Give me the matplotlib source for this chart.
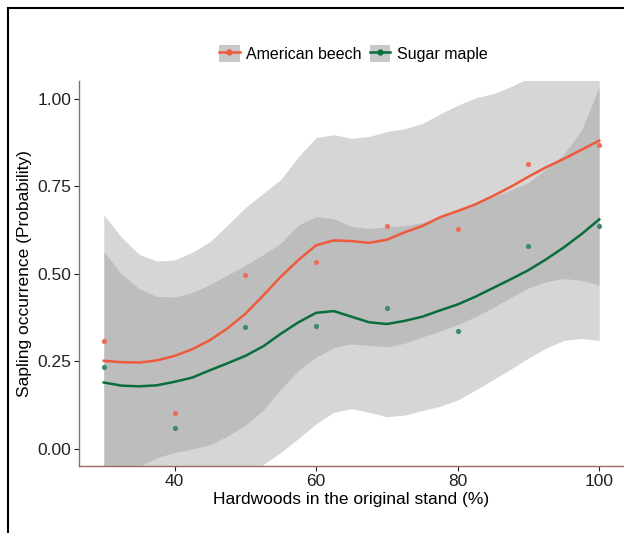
import numpy as np
import matplotlib
matplotlib.use("Agg")
import matplotlib.pyplot as plt
from matplotlib.patches import Patch
from matplotlib.lines import Line2D

plt.rcParams["font.family"] = ["Liberation Sans", "DejaVu Sans"]

# observed proportions per stand class
x_obs = [30, 40, 50, 60, 70, 80, 90, 100]
beech_obs = [0.309, 0.104, 0.496, 0.534, 0.637, 0.629, 0.813, 0.868]
maple_obs = [0.235, 0.061, 0.349, 0.351, 0.404, 0.337, 0.580, 0.637]

# smoothed fit and confidence band
x_fit = [30, 32.5, 35, 37.5, 40, 42.5, 45, 47.5, 50, 52.5, 55, 57.5, 60, 62.5, 65,
         67.5, 70, 72.5, 75, 77.5, 80, 82.5, 85, 87.5, 90, 92.5, 95, 97.5, 100]
beech_fit = [0.252, 0.248, 0.247, 0.253, 0.266, 0.285, 0.311, 0.345, 0.386, 0.438, 0.492,
             0.540, 0.582, 0.596, 0.594, 0.589, 0.598, 0.619, 0.637, 0.662, 0.680, 0.699,
             0.723, 0.749, 0.778, 0.805, 0.829, 0.855, 0.881]
beech_lo = [-0.20, -0.12, -0.05, -0.025, -0.010, 0.000, 0.012, 0.037, 0.068, 0.110, 0.170,
            0.225, 0.262, 0.290, 0.300, 0.296, 0.292, 0.302, 0.320, 0.337, 0.355, 0.378,
            0.404, 0.433, 0.460, 0.478, 0.487, 0.482, 0.468]
beech_hi = [0.669, 0.605, 0.556, 0.537, 0.540, 0.562, 0.592, 0.640, 0.690, 0.730, 0.770,
            0.835, 0.890, 0.898, 0.888, 0.893, 0.907, 0.915, 0.930, 0.957, 0.982, 1.003,
            1.015, 1.035, 1.060, 1.100, 1.150, 1.220, 1.290]
maple_fit = [0.190, 0.181, 0.179, 0.182, 0.192, 0.204, 0.225, 0.245, 0.266, 0.293, 0.329,
             0.362, 0.389, 0.394, 0.378, 0.362, 0.357, 0.366, 0.378, 0.396, 0.413, 0.435,
             0.460, 0.485, 0.511, 0.542, 0.576, 0.614, 0.656]
maple_lo = [-0.19, -0.15, -0.12, -0.10, -0.09, -0.09, -0.09, -0.09, -0.08, -0.045, -0.010,
            0.030, 0.072, 0.105, 0.115, 0.105, 0.092, 0.097, 0.110, 0.122, 0.140, 0.168,
            0.198, 0.228, 0.260, 0.288, 0.310, 0.316, 0.310]
maple_hi = [0.564, 0.500, 0.458, 0.436, 0.434, 0.447, 0.470, 0.497, 0.525, 0.555, 0.588,
            0.640, 0.664, 0.658, 0.636, 0.630, 0.635, 0.638, 0.647, 0.665, 0.684, 0.700,
            0.720, 0.740, 0.762, 0.800, 0.842, 0.911, 1.035]

species = ["American beech", "Sugar maple"]
line_cols = ["#ee5a3c", "#0a6e3c"]
point_cols = ["#e8705a", "#3d8a6c"]

fig = plt.figure(figsize=(6.24, 5.33), dpi=100)
ax = fig.add_axes([0.1266, 0.1248, 0.8734, 0.7223])

series = [(beech_obs, beech_fit, beech_lo, beech_hi),
          (maple_obs, maple_fit, maple_lo, maple_hi)]
for obs, fit, lo, hi in series:
    ax.fill_between(x_fit, lo, hi, color="#999999", alpha=0.4, lw=0)
for (obs, fit, lo, hi), lc, pc in zip(series, line_cols, point_cols):
    ax.scatter(x_obs, obs, s=14, color=pc, lw=0, zorder=3)
    ax.plot(x_fit, fit, color=lc, lw=1.8, zorder=4, solid_joinstyle="round")

ax.set_xlim(26.5, 103.5)
ax.set_ylim(-0.05, 1.05)
ax.set_xticks([40, 60, 80, 100])
ax.set_yticks([0, 0.25, 0.5, 0.75, 1.0])
ax.set_yticklabels(["0.00", "0.25", "0.50", "0.75", "1.00"])
ax.tick_params(labelsize=12.5, colors="#222222", length=3.5, width=0.8, pad=2)
for s in ["top", "right"]:
    ax.spines[s].set_visible(False)
for s in ["left", "bottom"]:
    ax.spines[s].set_color("#9c6a5c")
    ax.spines[s].set_linewidth(1.0)
ax.set_xlabel("Hardwoods in the original stand (%)", fontsize=12.5, labelpad=2)
ax.set_ylabel("Sapling occurrence (Probability)", fontsize=12.5, labelpad=4)

handles = []
for lc in line_cols:
    box = Patch(facecolor="#c8c8c8", edgecolor="none")
    ln = Line2D([], [], color=lc, lw=1.8, marker="o", markersize=3.5)
    handles.append((box, ln))
fig.legend(handles, species, loc="center", bbox_to_anchor=(0.566, 0.9), ncol=2,
           frameon=False, fontsize=11.5, handlelength=1.3, handleheight=1.3,
           handletextpad=0.4, columnspacing=0.5)

# frame around the figure (top and left edges visible in the crop)
fig.add_artist(Line2D([0.013, 1.0], [0.985, 0.985], color="black", lw=1.5))
fig.add_artist(Line2D([0.013, 0.013], [0.0, 0.985], color="black", lw=1.5))

fig.savefig("out.png", dpi=100)
